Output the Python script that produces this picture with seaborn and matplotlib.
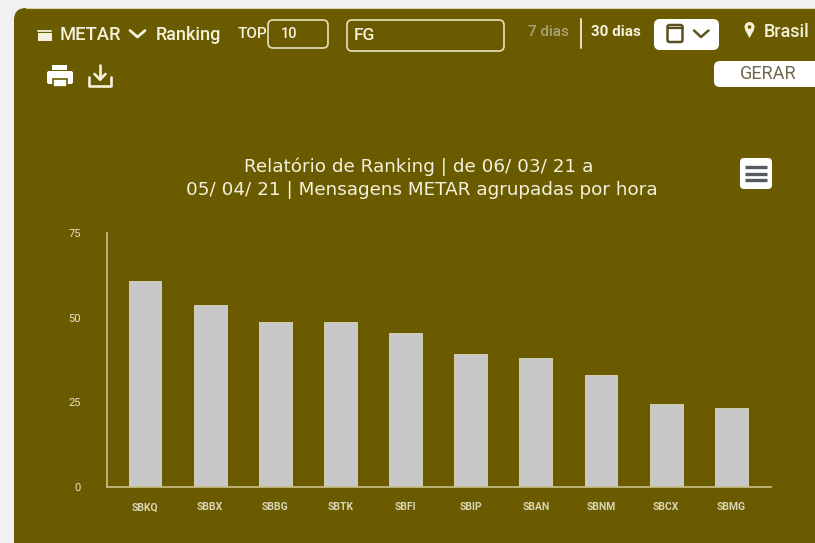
import matplotlib
matplotlib.use("Agg")
import matplotlib.pyplot as plt
from matplotlib.patches import FancyBboxPatch, Rectangle, Circle, Polygon
import pandas as pd
import seaborn as sns

stations = ["SBKQ", "SBBX", "SBBG", "SBTK", "SBFI", "SBIP", "SBAN", "SBNM", "SBCX", "SBMG"]
counts = [60.7, 53.7, 48.7, 48.7, 45.5, 39.4, 38.2, 33.2, 24.4, 23.2]
y_ticks = [0, 25, 50, 75]
title_text = "Relatório de Ranking | de 06/ 03/ 21 a\n05/ 04/ 21 | Mensagens METAR agrupadas por hora"

BG = "#6b5b00"
PAGE = "#f1f1f1"
INK = "#f4f1dc"
AXIS = "#c9c08a"
W, H = 815, 543

sns.set_theme(style="white")
plt.rcParams["font.family"] = ["Roboto", "DejaVu Sans"]

fig = plt.figure(figsize=(W / 100, H / 100), dpi=100, facecolor=PAGE)

ui = fig.add_axes([0, 0, 1, 1], zorder=0)
ui.set_xlim(0, W)
ui.set_ylim(H, 0)
ui.axis("off")


def box(x, y, w, h, r, fc, ec="none", lw=0, z=1):
    ui.add_patch(FancyBboxPatch((x + r, y + r), w - 2 * r, h - 2 * r,
                                boxstyle=f"round,pad={r},rounding_size={r}",
                                fc=fc, ec=ec, lw=lw, zorder=z))


def label(x, y, s, size=11.5, color=INK, ha="left", weight="normal", family=None):
    ui.text(x, y, s, fontsize=size, color=color, ha=ha, va="center",
            weight=weight, family=family or ["Roboto", "DejaVu Sans"], zorder=4)


# panel
box(14, 8, 860, 560, 12, BG)
ui.plot([26, 815], [8, 8], color="#d9d4a8", lw=0.8, zorder=2)

# toolbar: left
ui.add_patch(Rectangle((38, 33), 14, 8, fc=INK, ec="none", zorder=3))
ui.plot([38, 51], [30.5, 30.5], color=INK, lw=1.3, zorder=3)
label(60, 35, "METAR", 13.2, weight="medium")
ui.plot([130, 137.5, 145], [30.5, 37, 30.5], color=INK, lw=2, zorder=3)
label(156, 35, "Ranking", 13, weight="medium")
label(238, 34, "TOP", 11, weight="medium")
box(268, 20, 60, 28, 5, BG, ec="#e7e2bd", lw=1.2, z=3)
label(281, 34, "10", 10.5, weight="medium")
box(347, 20, 157, 31, 5, BG, ec="#e7e2bd", lw=1.2, z=3)
label(354, 35, "FG", 12.5, weight="medium")

# toolbar: right
label(528, 32, "7 dias", 11, color="#a8a37a", weight="medium")
ui.plot([581, 581], [19, 48], color="#e7e2bd", lw=1.4, zorder=3)
label(591, 32, "30 dias", 11, weight="bold")
box(654, 19, 65, 31, 6, "white", z=3)
box(667.5, 25, 15, 17, 2, "white", ec="#5c5020", lw=1.8, z=4)
ui.plot([667.5, 682.5], [28, 28], color="#5c5020", lw=1.6, zorder=5)
ui.plot([694, 701, 708.5], [30.5, 37, 30.5], color="#5c5020", lw=1.8, zorder=4)
ui.add_patch(Polygon([[745, 30], [754, 30], [749.5, 38]], fc=INK, ec="none", zorder=4))
ui.add_patch(Circle((749.5, 27), 5, fc=INK, ec="none", zorder=4))
ui.add_patch(Circle((749.5, 27), 1.8, fc=BG, ec="none", zorder=5))
label(764, 32, "Brasil", 13, weight="medium")
box(714, 61, 130, 26, 6, "white", z=3)
label(768, 74, "GERAR", 13, color="#6f6a4c", ha="center")

# print + download icons
ui.add_patch(Rectangle((52, 65), 15, 5, fc="white", ec="none", zorder=3))
box(47, 71, 26, 13, 2, "white", z=3)
ui.add_patch(Rectangle((53, 79), 14, 8, fc="white", ec=BG, lw=1.2, zorder=4))
ui.plot([89, 89, 111, 111], [77, 86, 86, 77], color=INK, lw=1.9, zorder=3)
ui.plot([100, 100], [65, 79], color=INK, lw=1.9, zorder=3)
ui.plot([94.5, 100, 105.5], [74, 79.5, 74], color=INK, lw=1.9, zorder=3)

# chart title + menu
for i, line in enumerate(title_text.split("\n")):
    ui.text(419 if i == 0 else 421.5, 167 + i * 23, line, fontsize=13.2, color=INK,
            ha="center", va="center", family="DejaVu Sans", zorder=4)
box(740, 158, 32, 31, 4, "white", z=3)
for yy in (167, 173.5, 180):
    ui.plot([745, 767], [yy, yy], color="#555a60", lw=2.4, zorder=4, solid_capstyle="butt")

# chart
ax = fig.add_axes([107 / W, 1 - 487 / H, (771 - 107) / W, 254 / H], zorder=2)
ax.patch.set_alpha(0)
df = pd.DataFrame({"station": stations, "count": counts})
sns.barplot(data=df, x="station", y="count", ax=ax, color="#c8c8c8", saturation=1,
            width=0.505, edgecolor="#dcd8b8", linewidth=0.6)
ax.set_xlim(-0.584, 9.61)
ax.set_ylim(0, 75)
ax.set_yticks(y_ticks)
ax.set_xlabel("")
ax.set_ylabel("")
ax.tick_params(axis="y", length=0, pad=19, labelsize=8, labelcolor="#e6e2c4")
ax.tick_params(axis="x", length=0, pad=11, labelsize=7.5, labelcolor="#d9d5b5")
for t in ax.get_xticklabels():
    t.set_fontweight("bold")
for side in ("top", "right"):
    ax.spines[side].set_visible(False)
for side in ("left", "bottom"):
    ax.spines[side].set_color(AXIS)
    ax.spines[side].set_linewidth(1.2)

fig.savefig("out.png", dpi=100, facecolor=PAGE)
